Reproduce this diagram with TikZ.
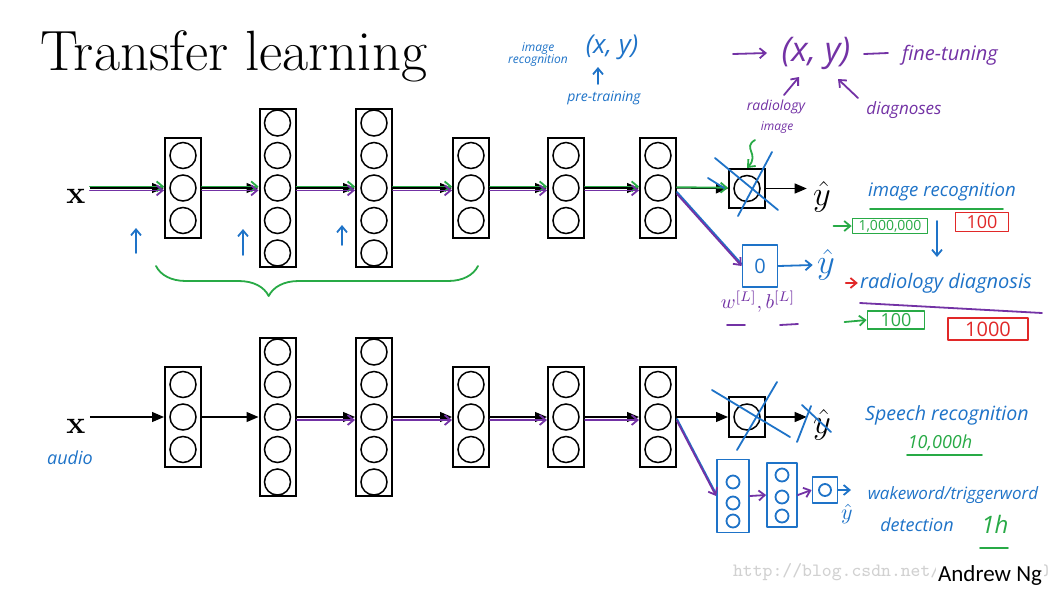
\documentclass[tikz,border=0pt]{standalone}
\usepackage{fontspec}
\newfontfamily\handfont{Open Sans}
\newfontfamily\slidefont{Carlito}
\usetikzlibrary{arrows.meta,decorations.pathreplacing}

\definecolor{penblue}{RGB}{30,115,200}
\definecolor{pengreen}{RGB}{40,170,70}
\definecolor{penpurple}{RGB}{115,50,165}
\definecolor{penred}{RGB}{225,40,40}

\tikzset{
  layer/.style={draw,line width=1pt,minimum width=18pt,inner sep=0pt},
  unit/.style={circle,draw,line width=0.75pt,minimum size=13pt,inner sep=0pt},
  flow/.style={-{Triangle[length=6pt,width=5pt]},line width=0.6pt},
  hand/.style={line width=0.9pt,line cap=round,line join=round},
  handarrow/.style={hand,-{Straight Barb[length=3pt,width=5pt]}},
  handbox/.style={draw,hand,inner sep=0pt},
  handunit/.style={circle,draw,hand,minimum size=6.5pt,inner sep=0pt},
  note/.style={inner sep=0pt,font=\handfont\itshape\fontsize{#1}{#1}\selectfont},
  note/.default=9,
}

\begin{document}
\begin{tikzpicture}[x=0.5pt,y=-0.5pt]
  \fill[white] (0,0) rectangle (1062,591);
  \useasboundingbox (0,0) rectangle (1062,591);

  \node (title) at (40,70) [anchor=base west,inner sep=0pt,font=\fontsize{28.4}{30}\selectfont] {Transfer learning};

  %layers, top row T and bottom row B
  \foreach \row/\yy in {T/188,B/417}{
    \foreach \i/\xx/\n in {1/183/3,2/277.5/5,3/374/5,4/471/3,5/566/3,6/658/3}{
      \node (\row\i) at (\xx,\yy) [layer,minimum height={\n*14.5pt+6.5pt}] {};
      \foreach \k in {1,...,\n}
        \node (\row\i u\k) at (\xx,{\yy+(\k-(\n+1)/2)*32.5}) [unit] {};
    }
  }
  \node (OT) at (747,188.5) [layer,minimum height=19.5pt] {};
  \node (OTu) at (OT) [unit] {};
  \node (OB) at (747,417) [layer,minimum height=20pt] {};
  \node (OBu) at (OB) [unit] {};

  \node (xT) at (76,196) [inner sep=2pt,font=\fontsize{16}{16}\selectfont\bfseries] {x};
  \node (xB) at (76,426) [inner sep=2pt,font=\fontsize{16}{16}\selectfont\bfseries] {x};
  \node (yT) at (822,197) [inner sep=3pt,font=\fontsize{17}{17}\selectfont] {$\hat{y}$};
  \node (yB) at (822,425) [inner sep=3pt,font=\fontsize{17}{17}\selectfont] {$\hat{y}$};

  \foreach \row in {T,B}{
    \draw[flow] (x\row.east |- \row1) -- (\row1.west);
    \foreach \i [evaluate=\i as \j using int(\i+1)] in {1,...,5}
      \draw[flow] (\row\i.east) -- (\row\j.west);
    \draw[flow] (\row6.east) -- (O\row.west);
    \draw[flow] (O\row.east) -- (y\row.west |- O\row);
  }

  %pen strokes over the top row
  \foreach \a/\b in {xT/T1,T1/T2,T2/T3,T3/T4,T4/T5,T5/T6}{
    \draw[handarrow,pengreen,transform canvas={yshift=0.8pt}] (\a.east |- T1) -- (\b.west);
    \draw[handarrow,penpurple,transform canvas={yshift=-1.2pt}] (\a.east |- T1) -- (\b.west);
  }
  \draw[handarrow,pengreen,transform canvas={yshift=0.4pt}] (T6.east) -- (OT.west);
  \foreach \a/\b in {B2/B3,B3/B4,B4/B5,B5/B6}
    \draw[handarrow,penpurple,transform canvas={yshift=-1.5pt}] (\a.east) -- (\b.west);

  \draw[handarrow,penblue] (136,253) -- (136,228);
  \draw[handarrow,penblue] (243,255) -- (243,229);
  \draw[handarrow,penblue] (342,245) -- (342,225);
  \draw[hand,pengreen,decorate,decoration={brace,mirror,amplitude=15pt,aspect=0.35}] (156,266) -- (478,266);

  %pre-training notes
  \node (imgB) at (538,55) [note=6,penblue,align=center] {image\\recognition};
  \node (xyB) at (612,47) [note=13,penblue] {(x, y)};
  \draw[handarrow,penblue] (598,84) -- (598,67);
  \node (pre) at (604,98) [note=7,penblue] {pre-training};

  %fine-tuning notes
  \draw[handarrow,penpurple] (733,54) -- (767,53);
  \node (xyP) at (816,53) [note=17,penpurple] {(x, y)};
  \draw[hand,penpurple] (864,54) -- (888,53);
  \node (fine) at (950,55) [note=10,penpurple] {fine-tuning};
  \node (radP) at (776,107) [note=7,penpurple] {radiology};
  \node (imgP) at (777,128) [note=6,penpurple] {image};
  \node (diagP) at (904,110) [note=8.5,penpurple] {diagnoses};
  \draw[handarrow,penpurple] (784,95) -- (799,77);
  \draw[handarrow,penpurple] (858,98) -- (838,79);
  \draw[handarrow,pengreen] (755,140) .. controls (742,148) and (760,154) .. (OT.north);

  %old output crossed out
  \draw[hand,penblue] (715,158) -- (778,210);
  \draw[hand,penblue] (772,152) -- (738,216);
  \draw[hand,penblue] (708,178) -- (724,188);
  \draw[hand,penblue] (712,390) -- (790,437);
  \draw[hand,penblue] (777,382) -- (737,450);
  \draw[hand,penblue] (802,405) -- (831,432);
  \draw[hand,penblue] (811,406) -- (797,442);

  %new output, radiology
  \node (SB) at (760,266) [handbox,penblue,minimum width=17.5pt,minimum height=21pt,font=\handfont\fontsize{10}{10}\selectfont] {0};
  \draw[hand,penblue] ([yshift=-2pt]T6.east) -- ([yshift=1pt]SB.west);
  \draw[handarrow,penpurple] ([yshift=-3pt]T6.east) -- (SB.west);
  \node (ySB) at (826,265) [penblue,inner sep=2pt,font=\fontsize{16}{16}\selectfont] {$\hat{y}$};
  \draw[handarrow,penblue] (SB.east) -- (ySB.west);
  \node (wb) at (758,302) [penpurple,font=\fontsize{10}{10}\selectfont] {$w^{[L]}, b^{[L]}$};
  \draw[hand,penpurple] (727,325) -- (745,325);
  \draw[hand,penpurple] (780,325) -- (798,324);

  \node (imgR) at (942,192) [note=9.3,penblue] {image recognition};
  \draw[hand,pengreen] (870,209) -- (1003,209);
  \node (big) at (890,226) [handbox,pengreen,minimum width=37.5pt,minimum height=7.5pt,font=\handfont\fontsize{7}{7}\selectfont] {1,000,000};
  \draw[handarrow,pengreen] ([xshift=-9pt]big.west) -- (big.west);
  \node (few) at (982,222) [handbox,penred,minimum width=26.5pt,minimum height=9.5pt,font=\handfont\fontsize{9}{9}\selectfont] {100};
  \draw[handarrow,penblue] (937,221) -- (937,257);
  \node (radR) at (946,283) [note=10,penblue] {radiology diagnosis};
  \draw[handarrow,penred] ([xshift=-7pt]radR.west) -- ([xshift=-1pt]radR.west);
  \draw[hand,penpurple] (860,303) -- (1042,313);
  \node (radbig) at (896,320) [handbox,pengreen,minimum width=28.5pt,minimum height=9pt,font=\handfont\fontsize{9}{9}\selectfont] {100};
  \draw[handarrow,pengreen] ([xshift=-11pt,yshift=-1pt]radbig.west) -- (radbig.west);
  \node (radfew) at (988,329) [handbox,penred,minimum width=40pt,minimum height=11pt,font=\handfont\fontsize{10}{10}\selectfont] {1000};

  %new output, wakeword
  \node (W1) at (733,496) [handbox,penblue,minimum width=16pt,minimum height=36.5pt] {};
  \foreach \k/\yy in {1/482,2/503,3/521}
    \node (W1u\k) at (733,\yy) [handunit,penblue] {};
  \node (W2) at (782,495) [handbox,penblue,minimum width=15pt,minimum height=32pt] {};
  \foreach \k/\yy in {1/475,2/497,3/516}
    \node (W2u\k) at (782,\yy) [handunit,penblue] {};
  \node (W3) at (825,490) [handbox,penblue,minimum width=12.5pt,minimum height=13pt] {};
  \node (W3u) at (W3) [handunit,penblue,minimum size=6pt] {};
  \draw[hand,penblue] ([yshift=-1pt]B6.east) -- ([yshift=1pt]W1.west);
  \draw[handarrow,penpurple] ([yshift=-2pt]B6.east) -- (W1.west);
  \draw[handarrow,penpurple] (W1.east) -- (W2.west);
  \draw[handarrow,penpurple] (W2.east) -- (W3.west);
  \coordinate (outW) at (851,490);
  \draw[handarrow,penblue] (W3.east) -- (outW);
  \node (yW) at (847,514) [penblue,inner sep=0pt,font=\fontsize{11}{11}\selectfont] {$\hat{y}$};

  \node (speech) at (947,415) [note=9.8,penblue] {Speech recognition};
  \node (tenk) at (940,443) [note,pengreen] {10,000h};
  \draw[hand,pengreen] (907,455) -- (982,455);
  \node (wake) at (953,495) [note=8.5,penblue] {wakeword/triggerword};
  \node (detect) at (917,525) [note,penblue] {detection};
  \node (oneh) at (995,524) [note=12,pengreen] {1h};
  \draw[hand,pengreen] (980,548) -- (1008,548);

  \node (audio) at (70,458) [note,penblue] {audio};

  \node (mark) at (891,572) [text=black!18,font=\ttfamily\fontsize{9.4}{10}\selectfont] {http://blog.csdn.net/JUNJUN\_ZHAO};
  \node (author) at (990,575) [fill=white,inner sep=1pt,font=\slidefont\fontsize{11.5}{12}\selectfont] {Andrew Ng};
\end{tikzpicture}
\end{document}
